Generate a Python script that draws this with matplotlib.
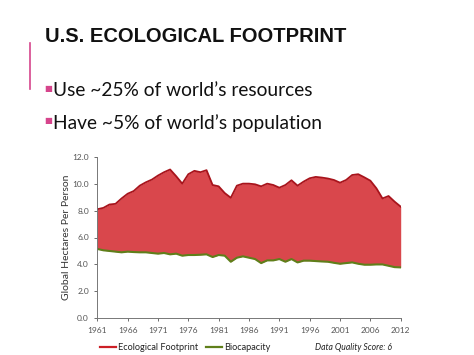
import matplotlib.pyplot as plt
from matplotlib.lines import Line2D
import numpy as np

# values (global hectares per person), one per year position
footprint = [8.1, 8.2, 8.45, 8.5, 8.9, 9.25, 9.45, 9.85, 10.1, 10.3,
             10.6, 10.85, 11.05, 10.55, 10.0, 10.7, 10.95, 10.85, 11.0, 9.9,
             9.8, 9.3, 8.95, 9.85, 10.0, 10.0, 9.95, 9.8, 10.0, 9.9,
             9.7, 9.9, 10.25, 9.85, 10.15, 10.4, 10.5, 10.45, 10.38, 10.27,
             10.07, 10.27, 10.64, 10.7, 10.47, 10.22, 9.65, 8.9, 9.08, 8.66,
             8.29]
biocapacity = [5.15, 5.05, 5.0, 4.95, 4.9, 4.95, 4.92, 4.9, 4.9, 4.85,
               4.8, 4.85, 4.75, 4.8, 4.65, 4.7, 4.7, 4.72, 4.75, 4.55,
               4.7, 4.65, 4.2, 4.5, 4.6, 4.5, 4.4, 4.1, 4.3, 4.3,
               4.4, 4.2, 4.4, 4.15, 4.28, 4.28, 4.25, 4.22, 4.2, 4.12,
               4.05, 4.1, 4.15, 4.05, 3.98, 3.98, 4.0, 4.0, 3.9, 3.8,
               3.78]
tick_pos = [0, 5, 10, 15, 20, 25, 30, 35, 40, 45, 50]
tick_labels = ['1961', '1966', '1971', '1976', '1981', '1986',
               '1991', '1996', '2001', '2006', '2012']
y_ticks = [0, 2, 4, 6, 8, 10, 12]

bullets = ["Use ~25% of world\u2019s resources",
           "Have ~5% of world\u2019s population"]

RED_FILL = '#d9474c'
RED_LINE = '#a8141c'
GREEN = '#5f7f1a'
PINK = '#d6458c'
GREY = '#555555'

fig = plt.figure(figsize=(4.74, 3.55), dpi=100)
fig.patch.set_facecolor('white')

# slide title and bullets
fig.text(45 / 474, 1 - 37 / 355, "U.S. ECOLOGICAL FOOTPRINT",
         fontsize=14.5, fontweight='bold', family='Liberation Sans',
         color='#111111', va='center', ha='left')
fig.add_artist(Line2D([30 / 474, 30 / 474], [1 - 43 / 355, 1 - 89 / 355],
                      color=PINK, linewidth=1.2))
for k, txt in enumerate(bullets):
    yy = 1 - (91 + 32 * k) / 355
    fig.text(44 / 474, yy + 0.006, "\u25a0", fontsize=6, color=PINK, va='center', ha='left')
    fig.text(53 / 474, yy, txt, fontsize=13.8, family='Lato', color='#111111',
             va='center', ha='left')

# chart
ax = fig.add_axes([97.3 / 474, 1 - 318.3 / 355, (400.7 - 97.3) / 474, (318.3 - 156.7) / 355])
x = np.arange(len(footprint))
ax.fill_between(x, biocapacity, footprint, color=RED_FILL, linewidth=0)
ax.plot(x, footprint, color=RED_LINE, linewidth=1.3)
ax.plot(x, biocapacity, color=GREEN, linewidth=1.5)

ax.set_xlim(0, len(footprint) - 1)
ax.set_ylim(0, 12)
ax.set_xticks(tick_pos)
ax.set_xticklabels(tick_labels)
ax.set_yticks(y_ticks)
ax.set_yticklabels([f"{v:.1f}" for v in y_ticks])
ax.tick_params(axis='both', labelsize=6, colors=GREY, length=2.5, width=0.6)
for lab in ax.get_xticklabels() + ax.get_yticklabels():
    lab.set_family('Lato')
ax.spines['top'].set_visible(False)
ax.spines['right'].set_visible(False)
ax.spines['left'].set_color('#777777')
ax.spines['bottom'].set_color('#777777')
ax.spines['left'].set_linewidth(0.7)
ax.spines['bottom'].set_linewidth(0.7)
ax.set_ylabel("Global Hectares Per Person", fontsize=7.5, family='Lato', color='#333333',
              labelpad=1)

# legend row under the chart
leg_y = 1 - 347 / 355
fig.add_artist(Line2D([100 / 474, 116 / 474], [leg_y, leg_y], color='#cc1f26', linewidth=1.6))
fig.text(118 / 474, leg_y, "Ecological Footprint", fontsize=6.6, family='Lato',
         color='#222222', va='center')
fig.add_artist(Line2D([206 / 474, 222 / 474], [leg_y, leg_y], color=GREEN, linewidth=1.6))
fig.text(224 / 474, leg_y, "Biocapacity", fontsize=6.6, family='Lato',
         color='#222222', va='center')
fig.text(315 / 474, leg_y, "Data Quality Score: 6", fontsize=6.2, family='Lato',
         style='italic', color='#222222', va='center')

fig.savefig('out.png', dpi=100)
